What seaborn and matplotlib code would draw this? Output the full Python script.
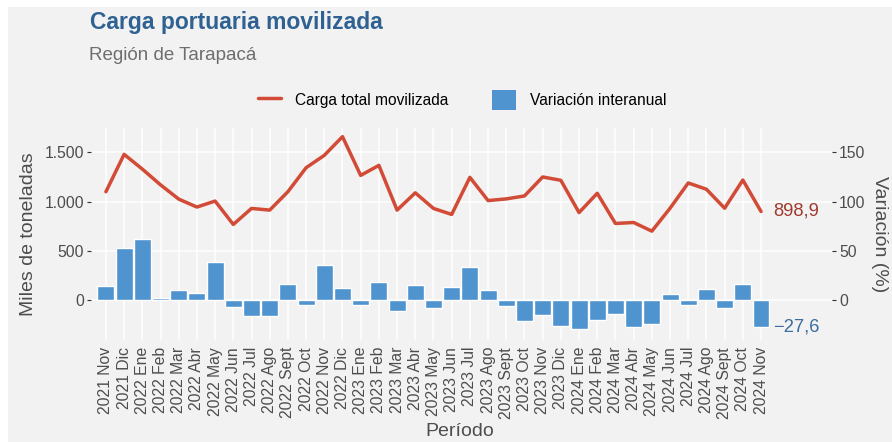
"""Carga portuaria movilizada, Región de Tarapacá."""
import matplotlib
matplotlib.use("Agg")
import matplotlib.pyplot as plt
from matplotlib.patches import Rectangle
from matplotlib.lines import Line2D
from matplotlib.patches import Patch
import numpy as np
import pandas as pd
import seaborn as sns

periodos = [
    "2021 Nov", "2021 Dic", "2022 Ene", "2022 Feb", "2022 Mar", "2022 Abr",
    "2022 May", "2022 Jun", "2022 Jul", "2022 Ago", "2022 Sept", "2022 Oct",
    "2022 Nov", "2022 Dic", "2023 Ene", "2023 Feb", "2023 Mar", "2023 Abr",
    "2023 May", "2023 Jun", "2023 Jul", "2023 Ago", "2023 Sept", "2023 Oct",
    "2023 Nov", "2023 Dic", "2024 Ene", "2024 Feb", "2024 Mar", "2024 Abr",
    "2024 May", "2024 Jun", "2024 Jul", "2024 Ago", "2024 Sept", "2024 Oct",
    "2024 Nov",
]
carga_miles_ton = [
    1100, 1480, 1330, 1170, 1025, 944, 1005, 767, 930, 913, 1100, 1344,
    1470, 1660, 1266, 1368, 913, 1089, 930, 869, 1246, 1010, 1027, 1057,
    1250, 1216, 888, 1084, 777, 787, 699, 932, 1189, 1125, 932, 1219, 898.9,
]
variacion_pct = [
    14.3, 52.9, 62.1, 1.7, 9.8, 6.8, 38.3, -7.5, -16.6, -16.6, 15.9, -5.1,
    35.3, 11.9, -5.1, 18.0, -11.5, 14.9, -8.5, 13.2, 33.6, 10.4, -6.4, -21.8,
    -15.8, -26.5, -29.9, -20.8, -14.8, -27.5, -24.8, 5.7, -4.7, 11.4, -8.4,
    15.8, -27.6,
]

COLOR_LINEA = "#D24B36"
COLOR_BARRA = "#4F94CF"
FONDO = "#F2F2F2"
TEXTO = "#4D4D4D"

sns.set_theme(style="darkgrid")
plt.rcParams["font.family"] = ["Liberation Sans", "DejaVu Sans"]

df = pd.DataFrame({
    "pos": np.arange(len(periodos)),
    "periodo": periodos,
    "carga": carga_miles_ton,
    "variacion": variacion_pct,
})

fig = plt.figure(figsize=(8.92, 4.42), dpi=100)
fig.patch.set_facecolor("white")
fig.patches.append(Rectangle((8 / 892, 0), 1, 1 - 7 / 442, transform=fig.transFigure,
                             facecolor=FONDO, edgecolor="none", zorder=-10))

ax = fig.add_axes([91 / 892, 102 / 442, 741 / 892, 212 / 442])
ax.set_facecolor(FONDO)
ax2 = ax.twinx()

sns.barplot(data=df, x="pos", y="variacion", native_scale=True, width=0.93,
            color=COLOR_BARRA, saturation=1, ax=ax2, zorder=2)
sns.lineplot(data=df, x="pos", y="carga", color=COLOR_LINEA, linewidth=2.5,
             ax=ax, zorder=3)

ax.set_ylim(-408, 1748)
ax2.set_ylim(-40.8, 174.8)
ax.set_xlim(-0.82, 39.9)
ax2.set_xlim(-0.82, 39.9)

ax.set_yticks([0, 500, 1000, 1500])
ax.set_yticklabels(["0", "500", "1.000", "1.500"])
ax2.set_yticks([0, 50, 100, 150])
ax.set_xticks(df["pos"])
ax.set_xticklabels(periodos, rotation=90)

ax.grid(True, color="white", linewidth=1.1)
ax2.grid(False)
for a in (ax, ax2):
    for s in a.spines.values():
        s.set_visible(False)
    a.tick_params(axis="both", length=3, width=0.8, color="#333333",
                  labelcolor=TEXTO, labelsize=11.3, pad=2)
ax.set_axisbelow(True)

ax.set_xlabel("")
fig.text(460 / 892, 1 - 432 / 442, "Período", fontsize=14, color=TEXTO,
         ha="center", va="center")
ax.set_ylabel("Miles de toneladas", fontsize=14, color=TEXTO, labelpad=5)
ax2.set_ylabel("Variación (%)", fontsize=14, color=TEXTO, rotation=-90,
               labelpad=16)

ult = df.iloc[-1]
ax.text(ult["pos"] + 0.67, ult["carga"], "898,9", color="#9E3B2E",
        fontsize=13.2, ha="left", va="center")
ax2.text(ult["pos"] + 0.67, ult["variacion"], "\u221227,6", color="#3B6D9E",
         fontsize=13.2, ha="left", va="center")

fig.text(90 / 892, 1 - 22 / 442, "Carga portuaria movilizada", fontsize=16.5,
         fontweight="bold", color="#2F6292", ha="left", va="center")
fig.text(89 / 892, 1 - 55 / 442, "Región de Tarapacá", fontsize=13.5,
         color="#6E6E6E", ha="left", va="center")

handles = [
    Line2D([], [], color=COLOR_LINEA, linewidth=2.5),
    Patch(facecolor=COLOR_BARRA, edgecolor="none"),
]
fig.legend(handles, ["Carga total movilizada", "Variación interanual"],
           loc="center", bbox_to_anchor=(462 / 892, 1 - 100 / 442), ncol=2,
           frameon=False, fontsize=11.2, handlelength=1.5, handleheight=1.6,
           columnspacing=2.8, handletextpad=0.9, labelcolor="black")

fig.savefig("out.png", dpi=100, facecolor=fig.get_facecolor())
